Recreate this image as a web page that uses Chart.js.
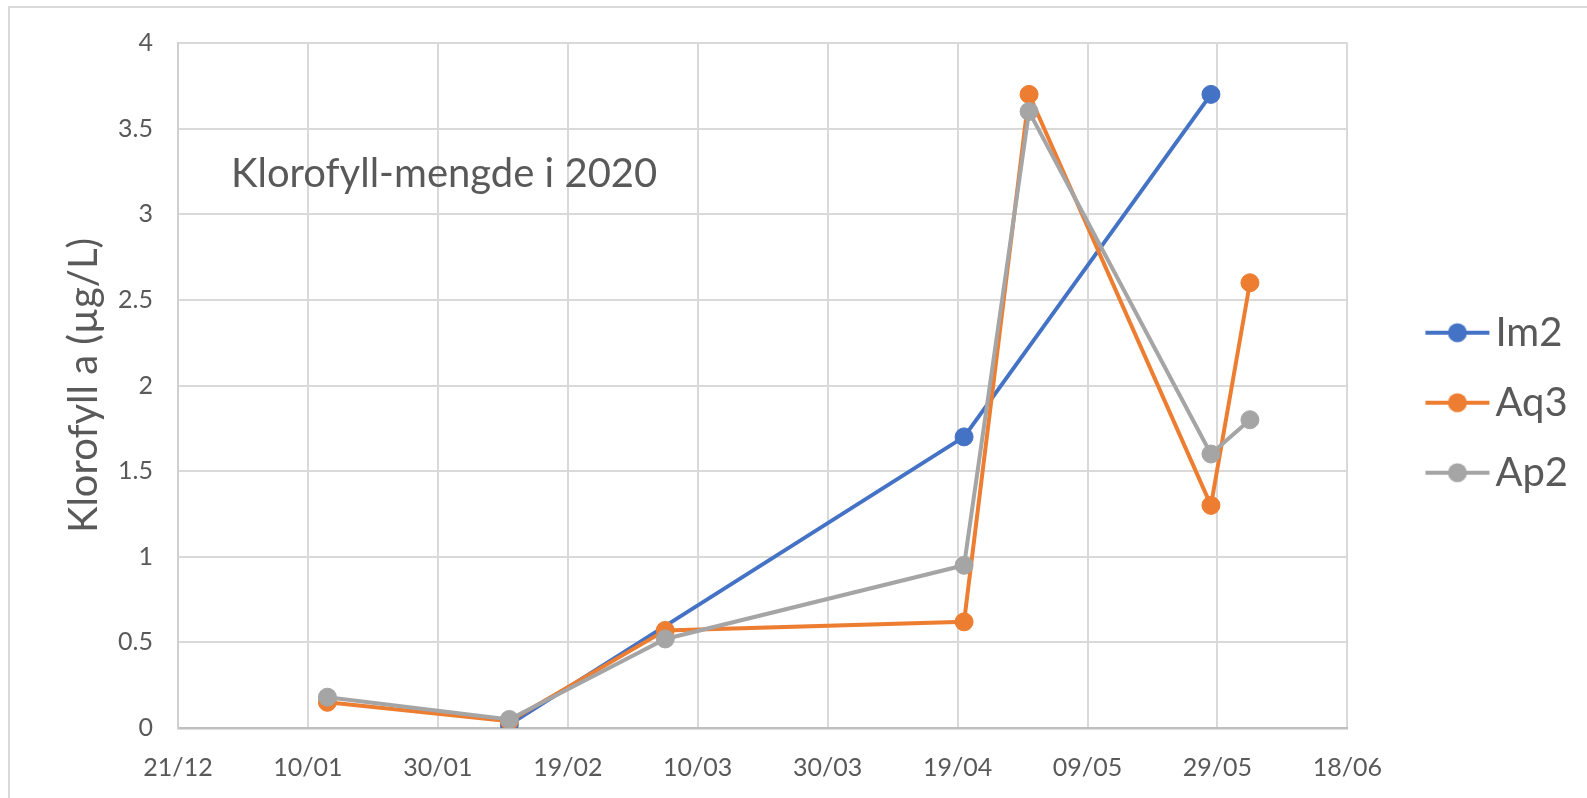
<!DOCTYPE html>
<html>
<head>
<meta charset="utf-8">
<script src="https://cdn.jsdelivr.net/npm/chart.js@4.4.1/dist/chart.umd.min.js"></script>
<style>
html, body { margin: 0; padding: 0; background: #fff; }
</style>
</head>
<body>
<canvas id="myChart" width="1587" height="798"></canvas>
<script>
// sampling dates and chlorophyll a (µg/L) per station
var startDate = '2019-12-21';
var tickLabels = ['21/12', '10/01', '30/01', '19/02', '10/03', '30/03', '19/04', '09/05', '29/05', '18/06'];

var im2Dates = ['2020-02-10', '2020-04-20', '2020-05-28'];
var im2Values = [0.02, 1.7, 3.7];

var aq3Dates = ['2020-01-13', '2020-02-10', '2020-03-05', '2020-04-20', '2020-04-30', '2020-05-28', '2020-06-03'];
var aq3Values = [0.15, 0.04, 0.57, 0.62, 3.7, 1.3, 2.6];

var ap2Dates = ['2020-01-13', '2020-02-10', '2020-03-05', '2020-04-20', '2020-04-30', '2020-05-28', '2020-06-03'];
var ap2Values = [0.18, 0.05, 0.52, 0.95, 3.6, 1.6, 1.8];

var seriesNames = ['Im2', 'Aq3', 'Ap2'];
var seriesColors = ['#4472C4', '#ED7D31', '#A5A5A5'];

var FONT = 'Lato, "Open Sans", sans-serif';
var TEXT = '#595959';

function dayNo(s) {
    return (Date.parse(s) - Date.parse(startDate)) / 86400000;
}
function points(dates, values) {
    return dates.map(function (d, i) { return { x: dayNo(d), y: values[i] }; });
}

// legend symbol: short line with a dot (wider than the box so it reaches toward the text)
function legendIcon(color) {
    var c = document.createElement('canvas');
    c.width = 128;
    c.height = 24;
    var g = c.getContext('2d');
    g.strokeStyle = color;
    g.lineWidth = 4;
    g.beginPath();
    g.moveTo(63, 12);
    g.lineTo(127, 12);
    g.stroke();
    g.fillStyle = color;
    g.beginPath();
    g.arc(95, 12, 9.5, 0, Math.PI * 2);
    g.fill();
    return c;
}
var icons = seriesColors.map(legendIcon);

function makeSet(i, data, order) {
    return {
        label: seriesNames[i],
        data: data,
        borderColor: seriesColors[i],
        backgroundColor: seriesColors[i],
        pointBackgroundColor: seriesColors[i],
        pointBorderColor: seriesColors[i],
        borderWidth: 4,
        pointRadius: 9,
        pointBorderWidth: 1,
        tension: 0,
        order: order
    };
}

var framePlugin = {
    id: 'frame',
    beforeDraw: function (chart) {
        var c = chart.ctx;
        c.save();
        c.fillStyle = '#fff';
        c.fillRect(0, 0, chart.width, chart.height);
        c.strokeStyle = '#d9d9d9';
        c.lineWidth = 2;
        c.strokeRect(9, 7, chart.width + 20, chart.height + 20);
        c.restore();
    },
    afterDraw: function (chart) {
        var a = chart.chartArea;
        var c = chart.ctx;
        c.save();
        c.font = '40px ' + FONT;
        c.fillStyle = TEXT;
        c.textBaseline = 'middle';
        c.textAlign = 'left';
        c.fillText('Klorofyll-mengde i 2020', a.left + 53, a.top + 131);
        c.restore();
    }
};

var ctx = document.getElementById('myChart').getContext('2d');

var myChart = new Chart(ctx, {
    type: 'line',
    data: {
        datasets: [
            makeSet(0, points(im2Dates, im2Values), 3),
            makeSet(1, points(aq3Dates, aq3Values), 2),
            makeSet(2, points(ap2Dates, ap2Values), 1)
        ]
    },
    options: {
        responsive: false,
        animation: false,
        layout: {
            padding: { left: 10, top: 43, right: 9, bottom: 0 }
        },
        plugins: {
            tooltip: { enabled: false },
            legend: {
                position: 'right',
                align: 'center',
                fullSize: false,
                title: { display: true, text: '', font: { size: 10 }, padding: { top: 0, bottom: 22.5 } },
                labels: {
                    usePointStyle: true,
                    pointStyleWidth: 98,
                    padding: 30,
                    color: TEXT,
                    font: { family: FONT, size: 40 },
                    sort: function (a, b) { return a.datasetIndex - b.datasetIndex; },
                    generateLabels: function (chart) {
                        var items = Chart.defaults.plugins.legend.labels.generateLabels(chart);
                        items.forEach(function (it) { it.pointStyle = icons[it.datasetIndex]; });
                        return items;
                    }
                }
            }
        },
        scales: {
            x: {
                type: 'linear',
                min: 0,
                max: 180,
                ticks: {
                    stepSize: 20,
                    padding: 25,
                    color: TEXT,
                    font: { family: FONT, size: 25 },
                    callback: function (v) { return tickLabels[Math.round(v / 20)]; }
                },
                grid: { color: '#d9d9d9', lineWidth: 2, drawTicks: false },
                border: { color: '#bfbfbf', width: 2.5 },
                afterFit: function (scale) { scale.height = 70; }
            },
            y: {
                min: 0,
                max: 4,
                ticks: {
                    stepSize: 0.5,
                    padding: 25,
                    color: TEXT,
                    font: { family: FONT, size: 25 },
                    callback: function (v) { return String(Math.round(v * 10) / 10); }
                },
                grid: { color: '#d9d9d9', lineWidth: 2, drawTicks: false },
                border: { color: '#d0d0d0', width: 2 },
                title: {
                    display: true,
                    text: 'Klorofyll a (µg/L)',
                    color: TEXT,
                    font: { family: FONT, size: 40 },
                    padding: { top: 50, bottom: 0 }
                },
                afterFit: function (scale) { scale.width = 168; }
            }
        }
    },
    plugins: [framePlugin]
});
</script>
</body>
</html>
